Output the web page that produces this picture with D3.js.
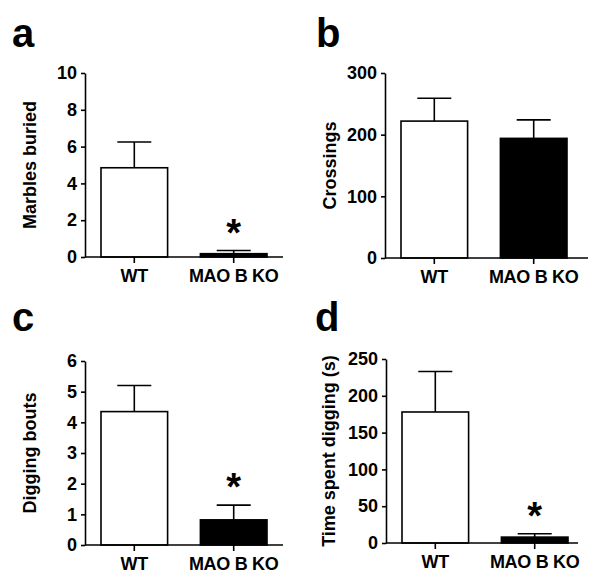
<!DOCTYPE html>
<html><head><meta charset="utf-8">
<script src="https://cdn.jsdelivr.net/npm/d3@7"></script>
<style>
html,body{margin:0;padding:0;background:#fff;}
svg{display:block;}
text{font-family:"Liberation Sans",Arial,sans-serif;font-weight:bold;fill:#000;}
</style></head>
<body>
<svg id="chart" width="602" height="578"></svg>
<script>
// ---- data ----
const groups = ["WT", "MAO B KO"];
const panelLetters = ["a", "b", "c", "d"];
const yTitles = ["Marbles buried", "Crossings", "Digging bouts", "Time spent digging (s)"];
const marblesMean = [4.85, 0.18];
const marblesSem = [1.4, 0.17];
const crossingsMean = [222, 194];
const crossingsSem = [37, 30];
const boutsMean = [4.35, 0.82];
const boutsSem = [0.85, 0.48];
const timeMean = [178, 8];
const timeSem = [55, 4.5];
const marblesTicks = [0, 2, 4, 6, 8, 10];
const crossingsTicks = [0, 100, 200, 300];
const boutsTicks = [0, 1, 2, 3, 4, 5, 6];
const timeTicks = [0, 50, 100, 150, 200, 250];
const marblesSig = [false, true];
const crossingsSig = [false, false];
const boutsSig = [false, true];
const timeSig = [false, true];
const barFills = ["#ffffff", "#000000"];

// ---- layout ----
const panels = [
  {letter: panelLetters[0], title: yTitles[0], mean: marblesMean, sem: marblesSem, ticks: marblesTicks, sig: marblesSig,
   ax: 85, top: 73, bot: 257, xEnd: 283, lx: 12, ly: 47, tx: 30},
  {letter: panelLetters[1], title: yTitles[1], mean: crossingsMean, sem: crossingsSem, ticks: crossingsTicks, sig: crossingsSig,
   ax: 385, top: 73, bot: 258, xEnd: 588, lx: 316, ly: 47, tx: 330},
  {letter: panelLetters[2], title: yTitles[2], mean: boutsMean, sem: boutsSem, ticks: boutsTicks, sig: boutsSig,
   ax: 85, top: 361, bot: 545, xEnd: 283, lx: 12, ly: 331, tx: 30},
  {letter: panelLetters[3], title: yTitles[3], mean: timeMean, sem: timeSem, ticks: timeTicks, sig: timeSig,
   ax: 386, top: 359, bot: 543, xEnd: 578, lx: 315, ly: 331, tx: 329}
];

const svg = d3.select("#chart");
const SW = 1.6;

panels.forEach(p => {
  const g = svg.append("g");
  const y = d3.scaleLinear()
    .domain([0, d3.max(p.ticks)])
    .range([p.bot, p.top]);
  const x = d3.scaleBand()
    .domain(groups)
    .range([p.ax + 16, p.ax + 182])
    .paddingInner(0.33)
    .paddingOuter(0);

  // panel letter
  g.append("text").attr("x", p.lx).attr("y", p.ly)
    .style("font-size", "40px").text(p.letter);

  // bars
  const data = groups.map((k, i) => ({k, m: p.mean[i], s: p.sem[i], sig: p.sig[i], fill: barFills[i]}));
  g.selectAll("rect.bar").data(data).join("rect")
    .attr("class", "bar")
    .attr("x", d => x(d.k))
    .attr("width", x.bandwidth())
    .attr("y", d => y(d.m))
    .attr("height", d => y(0) - y(d.m))
    .attr("fill", d => d.fill)
    .attr("stroke", "#000")
    .attr("stroke-width", SW);

  // error bars
  const cap = 17;
  data.forEach(d => {
    const cx = x(d.k) + x.bandwidth() / 2;
    g.append("line").attr("x1", cx).attr("x2", cx)
      .attr("y1", y(d.m)).attr("y2", y(d.m + d.s))
      .attr("stroke", "#000").attr("stroke-width", SW);
    g.append("line").attr("x1", cx - cap).attr("x2", cx + cap)
      .attr("y1", y(d.m + d.s)).attr("y2", y(d.m + d.s))
      .attr("stroke", "#000").attr("stroke-width", SW);
    if (d.sig) {
      g.append("text").attr("x", cx).attr("y", y(d.m + d.s) - 5)
        .attr("text-anchor", "middle")
        .style("font-size", "38px").text("*");
    }
  });

  // y axis
  const yAxis = d3.axisLeft(y).tickValues(p.ticks).tickFormat(d3.format("d"))
    .tickSize(4).tickPadding(4).tickSizeOuter(0);
  const ya = g.append("g").attr("transform", `translate(${p.ax},0)`).call(yAxis);
  ya.select(".domain").attr("stroke", "#000").attr("stroke-width", SW);
  ya.selectAll(".tick line").attr("stroke", "#000").attr("stroke-width", SW);
  ya.selectAll(".tick text").style("font-size", "18px")
    .style("font-family", '"Liberation Sans",Arial,sans-serif').style("font-weight", "bold").attr("fill", "#000");

  // x axis
  g.append("line").attr("x1", p.ax).attr("x2", p.xEnd)
    .attr("y1", p.bot).attr("y2", p.bot)
    .attr("stroke", "#000").attr("stroke-width", SW);
  groups.forEach(k => {
    const cx = x(k) + x.bandwidth() / 2;
    g.append("line").attr("x1", cx).attr("x2", cx)
      .attr("y1", p.bot).attr("y2", p.bot + 6)
      .attr("stroke", "#000").attr("stroke-width", SW);
    g.append("text").attr("x", cx).attr("y", p.bot + 25)
      .attr("text-anchor", "middle").style("font-size", "18px")
      .style("letter-spacing", "-0.3px").text(k);
  });

  // y title
  g.append("text")
    .attr("transform", `translate(${p.tx},${(p.top + p.bot) / 2}) rotate(-90)`)
    .attr("text-anchor", "middle").attr("dominant-baseline", "central")
    .style("font-size", "18px").text(p.title);
});
</script>
</body></html>
